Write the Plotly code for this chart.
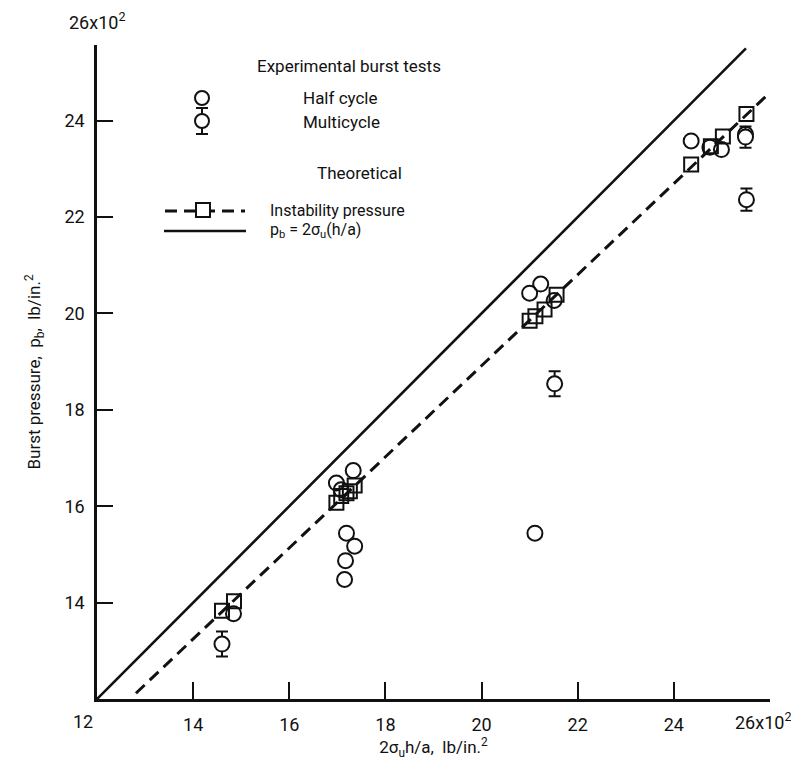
import plotly.graph_objects as go

# ---------------- data ----------------
# Theoretical: p_b = 2 sigma_u (h/a)  (solid line)
solid_x = [12.0, 25.5]
solid_y = [12.0, 25.5]

# Theoretical instability pressure (dashed line)
dashed_x = [12.81, 25.92]
dashed_y = [12.12, 24.51]

# Theoretical instability pressure points (squares)
sq_x = [14.60, 14.85, 16.98, 17.08, 17.19, 17.26, 17.36,
        21.00, 21.12, 21.31, 21.56, 24.36, 24.77, 25.02, 25.51]
sq_y = [13.83, 14.03, 16.07, 16.21, 16.27, 16.31, 16.43,
        19.85, 19.94, 20.08, 20.39, 23.09, 23.47, 23.67, 24.14]

# Experimental burst tests, half cycle (circles)
half_x = [14.84, 17.33, 16.98, 17.08, 17.19, 17.36, 17.17, 17.15,
          21.00, 21.23, 21.51, 21.11, 24.36, 24.75, 24.99, 25.49]
half_y = [13.77, 16.74, 16.48, 16.34, 15.44, 15.17, 14.87, 14.48,
          20.42, 20.61, 20.27, 15.44, 23.58, 23.45, 23.40, 23.72]

# Experimental burst tests, multicycle (circles with scatter bars)
multi_x = [14.60, 21.52, 25.49, 25.51]
multi_y = [13.14, 18.54, 23.66, 22.36]
multi_err = [0.26, 0.26, 0.22, 0.23]

x_ticks = [14, 16, 18, 20, 22, 24, 26]
x_ticktext = ["14", "16", "18", "20", "22", "24", ""]
y_ticks = [14, 16, 18, 20, 22, 24]
y_ticktext = ["14", "16", "18", "20", "22", "24"]
corner_label = "12"
top_label = "26x10<sup>2</sup>"

FONT = "Roboto, Liberation Sans, sans-serif"
BLACK = "#111111"

fig = go.Figure()

fig.add_trace(go.Scatter(x=solid_x, y=solid_y, mode="lines",
                         line=dict(color=BLACK, width=2.6), showlegend=False))
fig.add_trace(go.Scatter(x=dashed_x, y=dashed_y, mode="lines",
                         line=dict(color=BLACK, width=3, dash="12px,7px"),
                         showlegend=False))
fig.add_trace(go.Scatter(x=sq_x, y=sq_y, mode="markers",
                         marker=dict(symbol="square-open", size=14, color=BLACK,
                                     line=dict(width=2, color=BLACK)),
                         showlegend=False))
fig.add_trace(go.Scatter(x=half_x, y=half_y, mode="markers",
                         marker=dict(symbol="circle-open", size=15, color=BLACK,
                                     line=dict(width=2, color=BLACK)),
                         showlegend=False))
fig.add_trace(go.Scatter(x=multi_x, y=multi_y, mode="markers",
                         marker=dict(symbol="circle", size=15, color="white",
                                     line=dict(width=2, color=BLACK)),
                         error_y=dict(type="data", array=multi_err, visible=True,
                                      color=BLACK, thickness=2, width=6),
                         showlegend=False))

# ---------------- legend (drawn) ----------------
L, R, T, B = 89, 37, 37, 71
W, H = 799, 762
pw, ph = W - L - R, H - T - B


def px(x):
    return (x - L) / pw


def py(y):
    return (H - B - y) / ph


shapes = []
# half cycle circle
shapes.append(dict(type="circle", xref="paper", yref="paper", xsizemode="pixel",
                   ysizemode="pixel", xanchor=px(194), yanchor=py(90),
                   x0=-7, x1=7, y0=-7, y1=7, line=dict(color=BLACK, width=2)))
# multicycle: bar + caps + circle
shapes.append(dict(type="line", xref="paper", yref="paper", x0=px(194), x1=px(194),
                   y0=py(100), y1=py(126), line=dict(color=BLACK, width=2)))
for yy in (100, 126):
    shapes.append(dict(type="line", xref="paper", yref="paper", x0=px(188), x1=px(200),
                       y0=py(yy), y1=py(yy), line=dict(color=BLACK, width=2)))
shapes.append(dict(type="circle", xref="paper", yref="paper", xsizemode="pixel",
                   ysizemode="pixel", xanchor=px(194), yanchor=py(113),
                   x0=-7, x1=7, y0=-7, y1=7, fillcolor="white",
                   line=dict(color=BLACK, width=2)))
# dashed line with square
shapes.append(dict(type="line", xref="paper", yref="paper", x0=px(157), x1=px(237),
                   y0=py(203), y1=py(203),
                   line=dict(color=BLACK, width=3, dash="12px,7px")))
shapes.append(dict(type="rect", xref="paper", yref="paper", xsizemode="pixel",
                   ysizemode="pixel", xanchor=px(195), yanchor=py(202),
                   x0=-7, x1=7, y0=-7, y1=7, fillcolor="white",
                   line=dict(color=BLACK, width=2)))
# solid line
shapes.append(dict(type="line", xref="paper", yref="paper", x0=px(156), x1=px(238),
                   y0=py(223), y1=py(223), line=dict(color=BLACK, width=2.6)))

annotations = []


def txt(text, x, y, size=17, anchor="left"):
    annotations.append(dict(text=text, xref="paper", yref="paper", x=px(x), y=py(y),
                            xanchor=anchor, yanchor="middle", showarrow=False,
                            font=dict(family=FONT, size=size, color=BLACK)))


txt("Experimental burst tests", 247, 58)
txt("Half cycle", 293, 90)
txt("Multicycle", 293, 114)
txt("Theoretical", 307, 165)
txt("Instability pressure", 260, 202, size=16)
txt("p<sub>b</sub> = 2σ<sub>u</sub>(h/a)", 260, 223, size=16)

# corner "12", right-end x label and top y label
annotations.append(dict(text=corner_label, xref="x", yref="paper", x=12, y=0,
                        xshift=-14, yshift=-10, xanchor="center", yanchor="top",
                        showarrow=False, font=dict(family=FONT, size=18, color=BLACK)))
annotations.append(dict(text=top_label, xref="x", yref="paper", x=26, y=0,
                        xshift=23, yshift=-8, xanchor="right", yanchor="top",
                        showarrow=False, font=dict(family=FONT, size=18, color=BLACK)))
annotations.append(dict(text=top_label, xref="paper", yref="paper", x=0, y=1,
                        yshift=10, xanchor="center", yanchor="bottom", showarrow=False,
                        font=dict(family=FONT, size=18, color=BLACK)))

fig.update_layout(
    width=W, height=H, autosize=False,
    margin=dict(l=L, r=R, t=T, b=B, pad=0),
    paper_bgcolor="white", plot_bgcolor="white",
    font=dict(family=FONT, size=18, color=BLACK),
    shapes=shapes, annotations=annotations,
    xaxis=dict(range=[12, 26], tickvals=x_ticks, ticktext=x_ticktext,
               ticks="inside", ticklen=17, tickwidth=2, tickcolor=BLACK,
               showline=True, linewidth=2.5, linecolor=BLACK,
               showgrid=False, zeroline=False, ticklabelstandoff=8,
               tickfont=dict(family=FONT, size=18, color=BLACK),
               title=dict(text="2σ<sub>u</sub>h/a,  lb/in.<sup>2</sup>", standoff=6,
                          font=dict(family=FONT, size=17, color=BLACK))),
    yaxis=dict(range=[12, 25.57], tickvals=y_ticks, ticktext=y_ticktext,
               ticks="inside", ticklen=16, tickwidth=2, tickcolor=BLACK,
               showline=True, linewidth=2.5, linecolor=BLACK,
               showgrid=False, zeroline=False, ticklabelstandoff=6,
               tickfont=dict(family=FONT, size=18, color=BLACK),
               title=dict(text="Burst pressure,  p<sub>b</sub>,  lb/in.<sup>2</sup>",
                          standoff=20, font=dict(family=FONT, size=17, color=BLACK))),
)

fig.write_html("out.html")
